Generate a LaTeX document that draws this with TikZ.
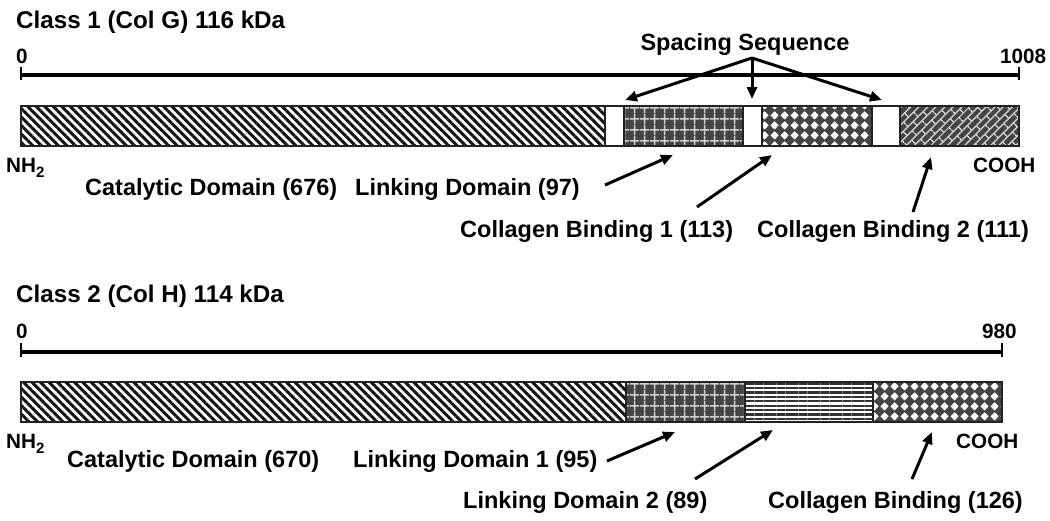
\documentclass[tikz,border=0pt]{standalone}
\usepackage{fontspec}
\setmainfont{Liberation Sans}
\usetikzlibrary{patterns.meta,arrows.meta}
\definecolor{dk}{HTML}{444444}
\definecolor{lg}{HTML}{D0D0D0}
\definecolor{ol}{HTML}{222222}
\tikzdeclarepattern{
  name=mydiam, type=uncolored,
  bounding box={(0pt,0pt) and (10pt,10pt)},
  tile size={(10pt,10pt)},
  code={\fill (5pt,0.6pt) -- (9.4pt,5pt) -- (5pt,9.4pt) -- (0.6pt,5pt) -- cycle;}
}
\tikzdeclarepattern{
  name=mygrid, type=uncolored,
  bounding box={(0pt,0pt) and (10pt,11pt)},
  tile size={(10pt,11pt)},
  code={\draw[line width=1.8pt] (5pt,0pt) -- (5pt,11pt) (0pt,5.5pt) -- (10pt,5.5pt);}
}
\tikzdeclarepattern{
  name=mybrick, type=uncolored,
  bounding box={(0pt,0pt) and (14pt,12pt)},
  tile size={(14pt,12pt)},
  tile transformation={rotate=45},
  code={\draw[line width=1.3pt] (0pt,3pt) -- (14pt,3pt) (0pt,9pt) -- (14pt,9pt)
        (3.5pt,3pt) -- (3.5pt,9pt) (10.5pt,9pt) -- (10.5pt,12pt) (10.5pt,0pt) -- (10.5pt,3pt);}
}
\begin{document}
\begin{tikzpicture}[x=1pt,y=-1pt,
  seg/.style={draw=ol, line width=1.4pt, anchor=north west, inner sep=0pt, outer sep=0pt, minimum height=40pt},
  catseg/.style={seg, preaction={fill=white}, pattern={Lines[angle=-45,distance=6pt,line width=3pt]}, pattern color=black!92},
  gridseg/.style={seg, preaction={fill=dk}, pattern=mygrid, pattern color=lg},
  diamseg/.style={seg, preaction={fill=dk}, pattern=mydiam, pattern color=white},
  brickseg/.style={seg, preaction={fill=dk}, pattern=mybrick, pattern color=lg},
  hlineseg/.style={seg, preaction={fill=white}, pattern={Lines[angle=0,distance=4.4pt,line width=2.2pt]}, pattern color=black!80},
  spseg/.style={seg, fill=white},
  big/.style={font=\fontsize{23.5}{24}\selectfont\bfseries, inner sep=0pt, anchor=base west},
  ttl/.style={font=\fontsize{24.2}{25}\selectfont\bfseries, inner sep=0pt, anchor=base west},
  small/.style={font=\fontsize{20.7}{21}\selectfont\bfseries, inner sep=0pt, anchor=base west},
  arr/.style={line width=3pt, -{Triangle[length=12pt,width=10pt]}},
  scl/.style={line width=3.5pt},
  tck/.style={line width=2pt}]
\useasboundingbox (0,0) rectangle (1050,520);

% ---------------- Class 1 ----------------
\node[ttl] (t1) at (16,28) {Class 1 (Col G) 116 kDa};
\node[small, anchor=base] (z1) at (22,63) {0};
\node[small] (e1) at (1000,63) {1008};
\coordinate (s1a) at (21,75);
\coordinate (s1b) at (1019,75);
\draw[scl] (s1a) -- (s1b);
\draw[tck] (21,67) -- (21,80);
\draw[tck] (1019,67) -- (1019,80);

\node[catseg, minimum width=584pt] (cat1) at (21,106) {};
\node[spseg, minimum width=19pt] (sp1) at (605,106) {};
\node[gridseg, minimum width=119pt] (lk1) at (624,106) {};
\node[spseg, minimum width=19pt] (sp2) at (743,106) {};
\node[diamseg, minimum width=110pt] (cbA) at (762,106) {};
\node[spseg, minimum width=28pt] (sp3) at (872,106) {};
\node[brickseg, minimum width=119pt] (cbB) at (900,106) {};

\node[big, anchor=base] (ss) at (745,50) {Spacing Sequence};
\coordinate (apex) at (752,58);
\coordinate (ssL) at (625,100);
\coordinate (ssM) at (752,99);
\coordinate (ssR) at (882,100);
\draw[arr] (apex) -- (ssL);
\draw[arr] (apex) -- (ssM);
\draw[arr] (apex) -- (ssR);

\node[small] (nh1) at (6,172) {NH\raisebox{-5pt}{\fontsize{15}{15}\selectfont 2}};
\node[small] (co1) at (973,172) {COOH};
\node[big] (cd1) at (85,195) {Catalytic Domain (676)};
\node[big] (ld) at (355,195) {Linking Domain (97)};
\node[big] (cb1) at (460,237) {Collagen Binding 1 (113)};
\node[big] (cb2) at (757,237) {Collagen Binding 2 (111)};

\coordinate (ldS) at (605,185);
\coordinate (ldE) at (673,155);
\coordinate (cb1S) at (697,207);
\coordinate (cb1E) at (772,155);
\coordinate (cb2S) at (913,212);
\coordinate (cb2E) at (931,157);
\draw[arr] (ldS) -- (ldE);
\draw[arr] (cb1S) -- (cb1E);
\draw[arr] (cb2S) -- (cb2E);

% ---------------- Class 2 ----------------
\node[ttl] (t2) at (16,302) {Class 2 (Col H) 114 kDa};
\node[small, anchor=base] (z2) at (22,338) {0};
\node[small] (e2) at (982,338) {980};
\coordinate (s2a) at (21,352);
\coordinate (s2b) at (1002,352);
\draw[scl] (s2a) -- (s2b);
\draw[tck] (21,343) -- (21,357);
\draw[tck] (1002,343) -- (1002,357);

\node[catseg, minimum width=605pt] (cat2) at (21,382) {};
\node[gridseg, minimum width=119pt] (lkA) at (626,382) {};
\node[hlineseg, minimum width=128pt] (lkB) at (745,382) {};
\node[diamseg, minimum width=129pt] (cbC) at (873,382) {};

\node[small] (nh2) at (6,448) {NH\raisebox{-5pt}{\fontsize{15}{15}\selectfont 2}};
\node[small] (co2) at (956,448) {COOH};
\node[big] (cd2) at (67,467) {Catalytic Domain (670)};
\node[big] (ld1) at (353,467) {Linking Domain 1 (95)};
\node[big] (ld2) at (463,508) {Linking Domain 2 (89)};
\node[big] (cbc) at (768,508) {Collagen Binding (126)};

\coordinate (ld1S) at (607,461);
\coordinate (ld1E) at (675,432);
\coordinate (ld2S) at (695,479);
\coordinate (ld2E) at (773,430);
\coordinate (cbcS) at (912,479);
\coordinate (cbcE) at (932,432);
\draw[arr] (ld1S) -- (ld1E);
\draw[arr] (ld2S) -- (ld2E);
\draw[arr] (cbcS) -- (cbcE);
\end{tikzpicture}
\end{document}
